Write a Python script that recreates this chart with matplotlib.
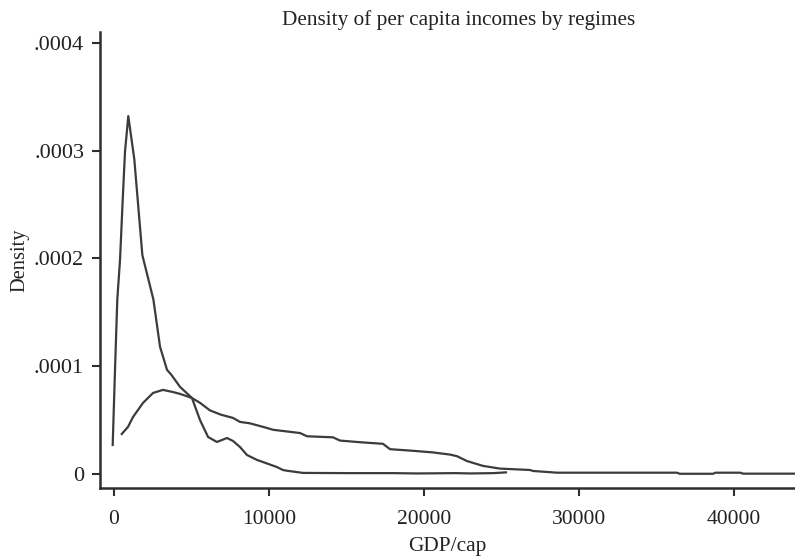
import matplotlib
matplotlib.use("Agg")
import matplotlib.pyplot as plt

plt.rcParams["font.family"] = ["Liberation Serif", "DejaVu Serif"]

# ----------------------------
# data
# ----------------------------
# regime 1: sharp peak at low income
gdp_narrow = [-84, 65, 213, 390, 561, 710, 923, 1310, 1830, 2540, 2970, 3420,
              3700, 4260, 5030, 5550, 6070, 6640, 7290, 7680, 8130, 8580,
              9230, 9610, 10500, 10900, 11160, 12200, 15000, 18000, 19500,
              20500, 22000, 23000, 24500, 25290]
dens_narrow = [2.69e-5, 9.66e-5, 1.62e-4, 1.99e-4, 2.54e-4, 2.99e-4, 3.32e-4,
               2.92e-4, 2.03e-4, 1.62e-4, 1.18e-4, 9.66e-5, 9.2e-5, 8.08e-5,
               7.05e-5, 5.0e-5, 3.43e-5, 2.97e-5, 3.34e-5, 3.06e-5, 2.5e-5,
               1.76e-5, 1.3e-5, 1.11e-5, 6.5e-6, 3.7e-6, 3.0e-6, 1.0e-6,
               8e-7, 8e-7, 5e-7, 6e-7, 8e-7, 5e-7, 8e-7, 1.5e-6]

# regime 2: broad, long right tail
gdp_broad = [500, 900, 1230, 1870, 2520, 3160, 3810, 4260, 5030, 5550, 6190,
             6900, 7680, 8130, 8770, 9870, 10260, 12000, 12450, 14130, 14580,
             15420, 16320, 17350, 17810, 19300, 20580, 21680, 22130, 22770,
             23810, 24900, 26840, 27030, 28580, 36320, 36500, 38650, 38800,
             40390, 40600, 44000]
dens_broad = [3.71e-5, 4.36e-5, 5.29e-5, 6.59e-5, 7.52e-5, 7.8e-5, 7.6e-5,
              7.43e-5, 7.05e-5, 6.6e-5, 5.9e-5, 5.5e-5, 5.2e-5, 4.83e-5,
              4.7e-5, 4.27e-5, 4.1e-5, 3.8e-5, 3.5e-5, 3.4e-5, 3.1e-5,
              3.0e-5, 2.9e-5, 2.8e-5, 2.3e-5, 2.15e-5, 2.0e-5, 1.8e-5,
              1.65e-5, 1.2e-5, 7.5e-6, 5.0e-6, 3.7e-6, 2.8e-6, 1.2e-6, 1.2e-6,
              2e-7, 2e-7, 1.2e-6, 1.2e-6, 3e-7, 3e-7]

yticks = [0, 0.0001, 0.0002, 0.0003, 0.0004]
ytick_labels = ["0", ".0001", ".0002", ".0003", ".0004"]
xticks = [0, 10000, 20000, 30000, 40000]
xtick_labels = ["0", "10000", "20000", "30000", "40000"]

line_col = "#3c3c3c"
axis_col = "#2e2e2e"
text_col = "#222222"

fig = plt.figure(figsize=(7.95, 5.58), dpi=100)
ax = fig.add_axes([100 / 795, 1 - 488 / 558, 695 / 795, 456 / 558])

ax.plot(gdp_narrow, dens_narrow, color=line_col, lw=1.6)
ax.plot(gdp_broad, dens_broad, color=line_col, lw=1.6)

ax.set_xlim(-903, 43935)
ax.set_ylim(-0.000013, 0.000410)

ax.set_yticks(yticks)
ax.set_yticklabels(ytick_labels)
ax.set_xticks(xticks)
ax.set_xticklabels(xtick_labels)

for side in ["top", "right"]:
    ax.spines[side].set_visible(False)
for side in ["left", "bottom"]:
    ax.spines[side].set_color(axis_col)
    ax.spines[side].set_linewidth(1.8)

ax.tick_params(axis="both", direction="out", length=5.5, width=1.5,
               color=axis_col, labelcolor=text_col)
ax.tick_params(axis="y", labelsize=16, pad=6)
ax.tick_params(axis="x", labelsize=15.5, pad=10)

ax.set_ylabel("Density", fontsize=14.7, color=text_col, labelpad=3)
ax.set_xlabel("GDP/cap", fontsize=15.4, color=text_col, labelpad=6)

fig.text(459 / 795, 1 - 20 / 558, "Density of per capita incomes by regimes",
         ha="center", va="center", fontsize=15.3, color=text_col)

fig.savefig("out.png", dpi=100)
